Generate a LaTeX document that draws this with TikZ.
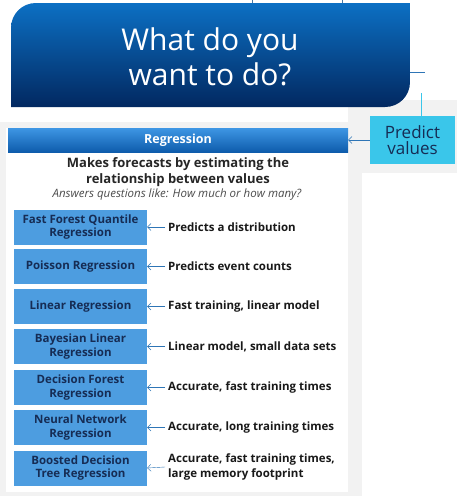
\documentclass[tikz,border=0pt]{standalone}
\usepackage{fontspec}
\setmainfont{Open Sans}
\usetikzlibrary{arrows.meta}
\definecolor{asktop}{RGB}{12,112,196}
\definecolor{askbot}{RGB}{2,40,96}
\definecolor{regtop}{RGB}{62,150,228}
\definecolor{regbot}{RGB}{14,92,172}
\definecolor{algblue}{RGB}{77,157,224}
\definecolor{algtext}{RGB}{22,44,84}
\definecolor{cyanbox}{RGB}{58,198,234}
\definecolor{linkblue}{RGB}{46,117,182}
\definecolor{panelgrey}{RGB}{242,242,242}

\begin{document}
\begin{tikzpicture}[x=1pt,y=-1pt,
  algo/.style={fill=algblue,text=algtext,font=\fontsize{11.5}{13.5}\selectfont\bfseries,align=center,minimum width=133pt,minimum height=35pt,inner sep=0pt},
  note/.style={anchor=west,text=black!90,font=\fontsize{11.5}{15}\selectfont\bfseries,align=left,inner xsep=3pt},
  back/.style={-{Straight Barb[length=3.5pt,width=7pt]},linkblue,thin}]
\useasboundingbox (0,0) rectangle (457,496);
\fill[panelgrey] (0,122) rectangle (362,496);
\fill[panelgrey] (348,100) rectangle (457,173);
\fill[white] (6,128) rectangle (348,492);
% question box
\shade[top color=asktop,bottom color=askbot] (11,107) -- (11,28) .. controls (11,14) and (22,3) .. (36,3) -- (410,3) -- (410,82) .. controls (410,96) and (399,107) .. (385,107) -- cycle;
\node[text=white,font=\fontsize{30}{35}\selectfont,align=center] (ask) at (210,57) {What do you\\want to do?};
\coordinate (up1) at (252,0);
\coordinate (up2) at (342,0);
\draw[linkblue!70!gray] (up1) -- ++(0,3);
\draw[linkblue!70!gray] (up2) -- ++(0,3);
\coordinate (askR) at (410,72);
\coordinate (j1) at (425,72);
\coordinate (j2) at (421,93);
\draw[linkblue,semithick] (askR) -- (j1);
% task and header
\node[fill=cyanbox,text=algtext,font=\fontsize{17}{15.5}\selectfont,align=center,minimum width=85pt,minimum height=48pt,inner sep=0pt] (pv) at (412.5,140) {Predict\\values};
\draw[cyanbox,semithick] (j2) -- (j2 |- pv.north);
\node[top color=regtop,bottom color=regbot,text=white,font=\fontsize{12.5}{15}\selectfont\bfseries,minimum width=340pt,minimum height=24pt,inner sep=0pt] (reg) at (178,140) {Regression};
\draw[back] (pv.west) -- (reg.east);
\node[font=\fontsize{13}{16}\selectfont\bfseries,text=black!85,align=center] (what) at (178,172) {Makes forecasts by estimating the\\relationship between values};
\node[font=\fontsize{11.5}{13}\selectfont\itshape,text=black!70] (like) at (177,195) {Answers questions like: How much or how many?};
% algorithms
\node[algo] (a1) at (80.5,227) {Fast Forest Quantile\\Regression};
\node[algo] (a2) at (80.5,266.5) {Poisson Regression};
\node[algo] (a3) at (80.5,306.5) {Linear Regression};
\node[algo] (a4) at (80.5,346.5) {Bayesian Linear\\Regression};
\node[algo] (a5) at (80.5,387.5) {Decision Forest\\Regression};
\node[algo] (a6) at (80.5,427.5) {Neural Network\\Regression};
\node[algo] (a7) at (80.5,468) {Boosted Decision\\Tree Regression};
\node[note] (n1) at (165,227) {Predicts a distribution};
\node[note] (n2) at (165,266.5) {Predicts event counts};
\node[note] (n3) at (165,306.5) {Fast training, linear model};
\node[note] (n4) at (165,346.5) {Linear model, small data sets};
\node[note] (n5) at (165,387.5) {Accurate, fast training times};
\node[note] (n6) at (165,427.5) {Accurate, long training times};
\node[note] (n7) at (165,467) {Accurate, fast training times,\\large memory footprint};
\foreach \i in {1,...,7}
  \draw[back] (n\i.west) -- (a\i.east);
\end{tikzpicture}
\end{document}
